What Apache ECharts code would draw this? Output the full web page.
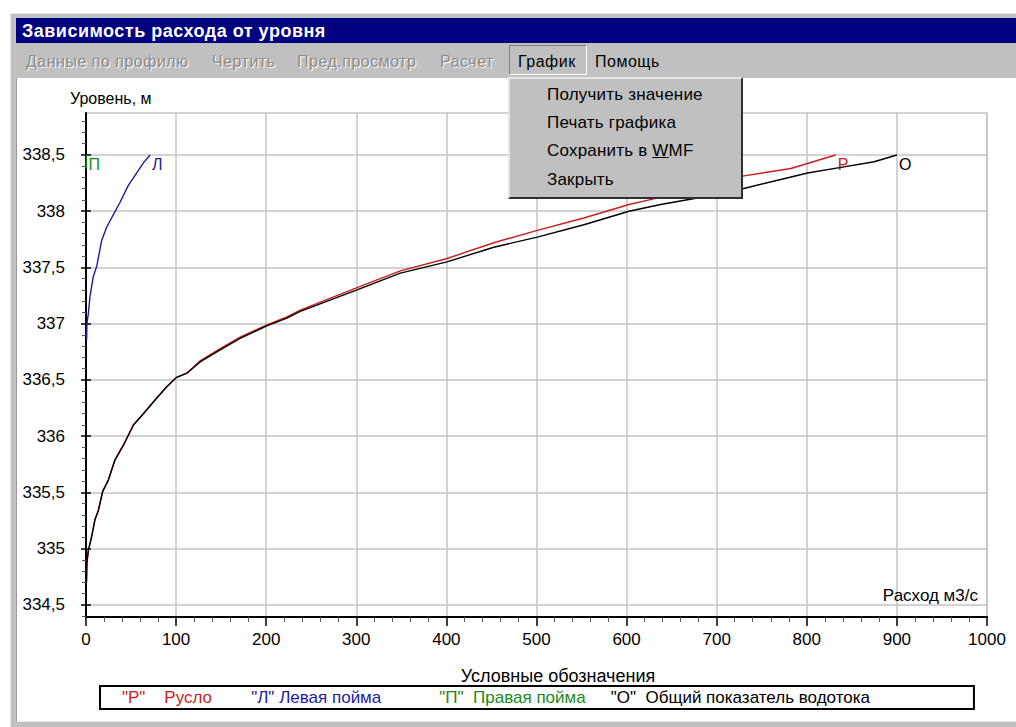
<!DOCTYPE html>
<html>
<head>
<meta charset="utf-8">
<script src="https://cdn.jsdelivr.net/npm/echarts@6.0.0/dist/echarts.min.js"></script>
<style>
  body { margin: 0; background: #fff; font-family: 'Liberation Sans', Arial, sans-serif; }
  .abs { position: absolute; }
  #frame { left: 10px; top: 13px; width: 1006px; height: 713px; background: #c0c0c0;
           border-top: 1px solid #e4e4e4; border-left: 1px solid #e4e4e4; }
  #titlebar { left: 16px; top: 18px; width: 1000px; height: 25px; background: #000080; color: #fff;
              font-weight: bold; font-size: 18px; line-height: 26px; text-indent: 6px; letter-spacing: 0.5px; }
  #menubar { left: 16px; top: 43px; width: 1000px; height: 35px; background: #c0c0c0; font-size: 16px; letter-spacing: 0.5px; }
  .mi { position: absolute; top: 10px; white-space: nowrap; }
  .dis { color: #8a8a8a; text-shadow: 1px 1px 0 #fff; }
  #client { left: 16px; top: 78px; width: 1000px; height: 643px; background: #fff;
            border-left: 1px solid #9a9a9a; border-bottom: 1px solid #e8e8e8; }
  #chart { left: 0; top: 0; width: 1016px; height: 727px; }
  #pressed { left: 509px; top: 45px; width: 78px; height: 30px; box-sizing: border-box;
             border-top: 1px solid #808080; border-left: 1px solid #808080;
             border-bottom: 1px solid #fff; border-right: 1px solid #fff; }
  #dropdown { left: 508px; top: 77px; width: 235px; height: 122px; box-sizing: border-box; background: #c0c0c0;
              border-top: 2px solid #e6e6e6; border-left: 2px solid #e6e6e6;
              border-right: 2px solid #303030; border-bottom: 2px solid #303030; font-size: 17px; letter-spacing: 0.2px; }
  .dd { position: absolute; left: 37px; white-space: nowrap; color: #000; }
</style>
</head>
<body>
<div id="frame" class="abs"></div>
<div id="titlebar" class="abs">Зависимость расхода от уровня</div>
<div id="menubar" class="abs">
  <span class="mi dis" style="left:10px">Данные по профилю</span>
  <span class="mi dis" style="left:196px">Чертить</span>
  <span class="mi dis" style="left:281px">Пред.просмотр</span>
  <span class="mi dis" style="left:424px">Расчет</span>
  <span class="mi" style="left:502px">График</span>
  <span class="mi" style="left:579px">Помощь</span>
</div>
<div id="pressed" class="abs"></div>
<div id="client" class="abs"></div>
<div id="chart" class="abs"></div>
<div id="dropdown" class="abs">
  <span class="dd" style="top:6px">Получить значение</span>
  <span class="dd" style="top:34px">Печать графика</span>
  <span class="dd" style="top:62px">Сохранить в <u>W</u>MF</span>
  <span class="dd" style="top:91px">Закрыть</span>
</div>
<script>
// Русло (channel)
var qChannel = [0.5, 1, 2.5, 6.3, 10, 13.7, 18.5, 24.8, 32.2, 41.5, 52.6, 63.7, 78.5, 89.6, 100, 111.9,
  126.7, 145.2, 171, 200.7, 223, 237.8, 300.8, 348.9, 400.7, 452.6, 500.8, 552.6, 602.6, 630, 680, 726.7, 782.2, 832]
var hChannel = [334.70, 334.87, 334.98, 335.11, 335.26, 335.34, 335.51, 335.61, 335.79, 335.92, 336.10, 336.20, 336.34, 336.44, 336.52, 336.56,
  336.67, 336.76, 336.88, 336.99, 337.06, 337.12, 337.32, 337.47, 337.58, 337.72, 337.83, 337.94, 338.06, 338.11, 338.21, 338.31, 338.38, 338.5]
// Левая пойма (left floodplain)
var qLeft = [0.7, 1, 2.6, 4.4, 8.1, 11.9, 17.4, 23, 30.4, 37.8, 47, 56.3, 63.7, 71.1]
var hLeft = [336.86, 337.0, 337.09, 337.24, 337.42, 337.51, 337.74, 337.86, 337.97, 338.08, 338.23, 338.34, 338.43, 338.5]
// Правая пойма (right floodplain)
var qRight = [0.2, 0.5]
var hRight = [338.38, 338.5]
// Общий показатель водотока (total)
var qTotal = [0.5, 1, 2.5, 6.3, 10, 13.7, 18.5, 24.8, 32.2, 41.5, 52.6, 63.7, 78.5, 89.6, 100, 111.9,
  126.7, 145.2, 171, 200.7, 223, 237.8, 300.8, 348.9, 400.7, 452.6, 500.8, 552.6, 602.6, 637.8, 680, 729, 770, 800.8, 837.8, 874.8, 900]
var hTotal = [334.70, 334.87, 334.98, 335.11, 335.26, 335.34, 335.51, 335.61, 335.79, 335.92, 336.10, 336.20, 336.34, 336.44, 336.52, 336.56,
  336.66, 336.75, 336.87, 336.98, 337.05, 337.11, 337.30, 337.45, 337.55, 337.68, 337.77, 337.88, 338.0, 338.06, 338.12, 338.2, 338.28, 338.34, 338.39, 338.44, 338.5]

var yMajorTicks = [334.5, 335, 335.5, 336, 336.5, 337, 337.5, 338, 338.5]
var yMinorTicks = [334.4, 334.6, 334.7, 334.8, 334.9, 335.1, 335.2, 335.3, 335.4, 335.6, 335.7, 335.8, 335.9,
  336.1, 336.2, 336.3, 336.4, 336.6, 336.7, 336.8, 336.9, 337.1, 337.2, 337.3, 337.4, 337.6, 337.7, 337.8, 337.9,
  338.1, 338.2, 338.3, 338.4, 338.6, 338.7, 338.8]

var seriesNames = ['Русло', 'Левая пойма', 'Правая пойма', 'Общий показатель водотока']
var seriesMarks = ['Р', 'Л', 'П', 'О']
var seriesColors = ['#c81e1e', '#1c1ca0', '#188a18', '#000000']

function pairs(q, h) {
  return q.map(function (v, i) { return [v, h[i]] })
}

var font = "'Liberation Sans', Arial, sans-serif"
var chart = echarts.init(document.getElementById('chart'), null, { renderer: 'svg' })

// trailing spaces stand in for the uneven gaps of the original legend
var legendText = {
  'Русло': '"Р"    Русло   ',
  'Левая пойма': '"Л" Левая пойма       ',
  'Правая пойма': '"П"  Правая пойма',
  'Общий показатель водотока': '"О"  Общий показатель водотока'
}

var dataSets = [pairs(qChannel, hChannel), pairs(qLeft, hLeft), pairs(qRight, hRight), pairs(qTotal, hTotal)]
var series = seriesNames.map(function (name, i) {
  return {
    type: 'line',
    name: name,
    data: dataSets[i],
    showSymbol: false,
    symbol: 'none',
    lineStyle: { color: seriesColors[i], width: 1.4 },
    itemStyle: { color: seriesColors[i] },
    z: i === 0 ? 2 : 3,
    endLabel: {
      show: true,
      formatter: seriesMarks[i],
      color: seriesColors[i],
      fontFamily: font,
      fontSize: 16,
      distance: 2,
      offset: [0, 10]
    }
  }
})

var option = {
  animation: false,
  backgroundColor: 'transparent',
  title: {
    text: 'Условные обозначения',
    left: 553,
    top: 662,
    textAlign: 'center',
    textStyle: { fontFamily: font, fontSize: 18, fontWeight: 'normal', color: '#000' }
  },
  legend: {
    data: seriesNames.map(function (n, i) { return { name: n, textStyle: { color: seriesColors[i] } } }),
    icon: 'none',
    itemWidth: 0,
    itemHeight: 0,
    itemGap: 20,
    selectedMode: false,
    left: 100,
    top: 686,
    padding: [3, 104, 3, 17],
    borderColor: '#000',
    borderWidth: 2,
    formatter: function (n) { return legendText[n] },
    textStyle: { fontFamily: font, fontSize: 17 }
  },
  grid: {
    left: 86, right: 29, top: 113, bottom: 110,
    show: true, borderColor: '#c4c4c4', borderWidth: 1.5, containLabel: false
  },
  xAxis: {
    type: 'value',
    min: 0, max: 1000, interval: 100,
    name: 'Расход м3/с',
    nameLocation: 'end',
    nameGap: -9,
    nameTextStyle: { fontFamily: font, fontSize: 17, color: '#000', align: 'right', verticalAlign: 'bottom', padding: [0, 0, 13, 0] },
    axisLine: { lineStyle: { color: '#000', width: 2 } },
    axisTick: { show: true, length: 9, lineStyle: { color: '#000', width: 1.5 } },
    minorTick: { show: true, splitNumber: 5, length: 5, lineStyle: { color: '#555', width: 1 } },
    axisLabel: {
      fontFamily: font, fontSize: 17, color: '#000', margin: 14, showMaxLabel: true,
      formatter: function (v) { return String(v) }
    },
    splitLine: { show: true, lineStyle: { color: '#c4c4c4', width: 1.5 } }
  },
  yAxis: [
    {
      type: 'value',
      min: 334.393, max: 338.873,
      position: 'left',
      name: 'Уровень, м',
      nameLocation: 'end',
      nameGap: 7,
      nameTextStyle: { fontFamily: font, fontSize: 16, color: '#000', align: 'left', padding: [0, 0, 0, -16] },
      axisLine: { lineStyle: { color: '#000', width: 2 } },
      axisTick: { show: true, length: 5, customValues: yMajorTicks, lineStyle: { color: '#000', width: 1.5 } },
      axisLabel: {
        customValues: yMajorTicks,
        fontFamily: font, fontSize: 17, color: '#000', margin: 21,
        formatter: function (v) { return String(v).replace('.', ',') }
      },
      splitLine: { show: true, lineStyle: { color: '#c4c4c4', width: 1.5 } }
    },
    {
      type: 'value',
      min: 334.393, max: 338.873,
      position: 'left',
      axisLine: { show: false },
      axisTick: { show: true, inside: true, length: 5, customValues: yMajorTicks, lineStyle: { color: '#000', width: 1.5 } },
      axisLabel: { show: false },
      splitLine: { show: false }
    },
    {
      type: 'value',
      min: 334.393, max: 338.873,
      position: 'left',
      axisLine: { show: false },
      axisTick: { show: true, length: 4, customValues: yMinorTicks, lineStyle: { color: '#555', width: 1 } },
      axisLabel: { show: false },
      splitLine: { show: false }
    }
  ],
  series: series
}

chart.setOption(option)
</script>
</body>
</html>
